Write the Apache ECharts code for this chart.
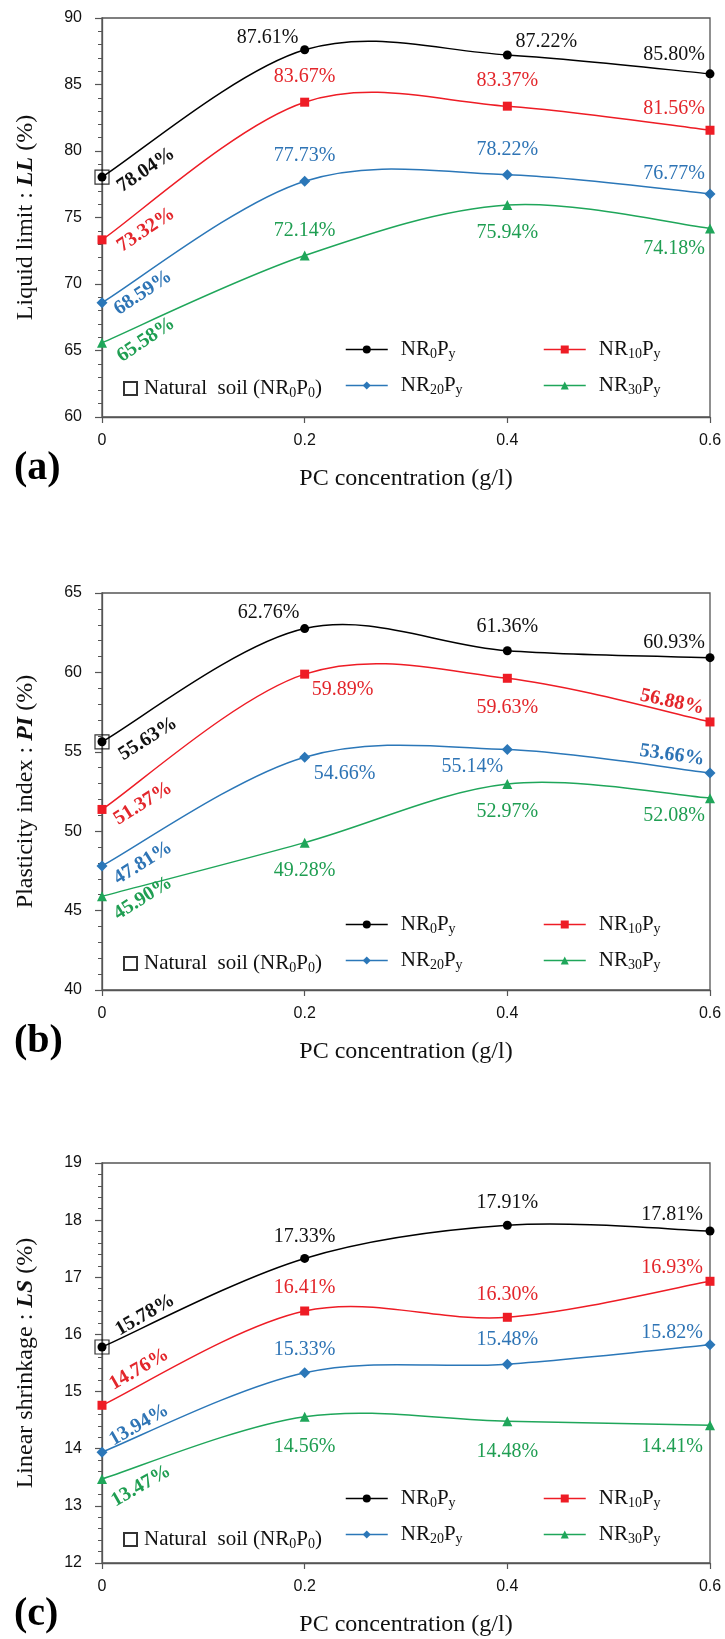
<!DOCTYPE html>
<html><head><meta charset="utf-8">
<script src="https://cdn.jsdelivr.net/npm/echarts@6/dist/echarts.min.js"></script>
<style>html,body{margin:0;padding:0;background:#fff}#c{width:725px;height:1639px}</style>
</head><body><div id="c"></div>
<script>
// ---------- data ----------
const xValues = [0, 0.2, 0.4, 0.6];
const seriesNames = ['NR0Py', 'NR10Py', 'NR20Py', 'NR30Py'];
const naturalName = 'Natural soil';
const xTitle = 'PC concentration (g/l)';
const panelTags = ['(a)', '(b)', '(c)'];

// (a) Liquid limit LL (%)
const llNR0  = [78.04, 87.61, 87.22, 85.80];
const llNR10 = [73.32, 83.67, 83.37, 81.56];
const llNR20 = [68.59, 77.73, 78.22, 76.77];
const llNR30 = [65.58, 72.14, 75.94, 74.18];
// (b) Plasticity index PI (%)
const piNR0  = [55.63, 62.76, 61.36, 60.93];
const piNR10 = [51.37, 59.89, 59.63, 56.88];
const piNR20 = [47.81, 54.66, 55.14, 53.66];
const piNR30 = [45.90, 49.28, 52.97, 52.08];
// (c) Linear shrinkage LS (%)
const lsNR0  = [15.78, 17.33, 17.91, 17.81];
const lsNR10 = [14.76, 16.41, 16.30, 16.93];
const lsNR20 = [13.94, 15.33, 15.48, 15.82];
const lsNR30 = [13.47, 14.56, 14.48, 14.41];

// y-axis ranges / ticks
const yMin = [60, 40, 12];
const yMax = [90, 65, 19];
const yStep = [5, 5, 1];
const yTitles = [['Liquid limit : ', 'LL', ' (%)'], ['Plasticity index : ', 'PI', ' (%)'], ['Linear shrinkage : ', 'LS', ' (%)']];

// ---------- style / layout ----------
const colors = ['#000000', '#ee1c25', '#2b77b8', '#1fa65a'];
const labelColors = ['#111111', '#e3262b', '#2e74b5', '#1f9e52'];
const symbols = ['circle', 'rect', 'diamond', 'triangle'];
const symbolSizes = [9, 9, 11, 10];
const gridTop = [18, 593, 1163];
const gridHeight = [399, 397, 400];
const legendRows = [[347, 386], [922, 961], [1496, 1537]];
const SERIF = 'Liberation Serif';
const SANS = 'Liberation Sans';

// label placement: [dx, dy, rotate, bold] (screen offsets from the marker)
const labelPlace = [
  [ [[44,-7,34,1],[-37,-12,0,0],[39,-13,0,0],[-36,-19,0,0]],
    [[44,-10,34,1],[0,-25,0,0],[0,-25,0,0],[-36,-22,0,0]],
    [[41,-10,34,1],[0,-25,0,0],[0,-25,0,0],[-36,-20,0,0]],
    [[44,-3,34,1],[0,-25,0,0],[0,28,0,0],[-36,20,0,0]] ],
  [ [[46,-3,32,1],[-36,-16,0,0],[0,-24,0,0],[-36,-15,0,0]],
    [[41,-6,32,1],[38,16,0,0],[0,29,0,0],[-38,-20,-12,1]],
    [[41,-3,32,1],[40,17,0,0],[-35,17,0,0],[-38,-18,-8,1]],
    [[41,2,32,1],[0,28,0,0],[0,28,0,0],[-36,18,0,0]] ],
  [ [[43,-32,30,1],[0,-22,0,0],[0,-23,0,0],[-38,-16,0,0]],
    [[37,-36,30,1],[0,-23,0,0],[0,-23,0,0],[-38,-14,0,0]],
    [[37,-27,30,1],[0,-23,0,0],[0,-24,0,0],[-38,-12,0,0]],
    [[39,7,30,1],[0,30,0,0],[0,30,0,0],[-38,21,0,0]] ]
];

const panelData = [
  [llNR0, llNR10, llNR20, llNR30],
  [piNR0, piNR10, piNR20, piNR30],
  [lsNR0, lsNR10, lsNR20, lsNR30]
];

const richLegend = {
  m: { fontFamily: SERIF, fontSize: 21, color: '#111' },
  s: { fontFamily: SERIF, fontSize: 14, color: '#111', padding: [9, 0, 0, 0] }
};
function legendFmt(name) {
  if (name === naturalName) return '{m|Natural  soil (NR}{s|0}{m|P}{s|0}{m|)}';
  const m = name.match(/^NR(\d+)Py$/);
  return '{m|NR}{s|' + m[1] + '}{m|P}{s|y}';
}

function makeCurve(vals, color) {
  return function (params, api) {
    const i = params.dataIndex;
    if (i >= vals.length - 1) return null;
    const P = vals.map((v, k) => api.coord([xValues[k], v]));
    const p0 = P[Math.max(i - 1, 0)], p1 = P[i], p2 = P[i + 1], p3 = P[Math.min(i + 2, P.length - 1)];
    return {
      type: 'bezierCurve',
      shape: {
        x1: p1[0], y1: p1[1], x2: p2[0], y2: p2[1],
        cpx1: p1[0] + (p2[0] - p0[0]) / 6, cpy1: p1[1] + (p2[1] - p0[1]) / 6,
        cpx2: p2[0] - (p3[0] - p1[0]) / 6, cpy2: p2[1] - (p3[1] - p1[1]) / 6
      },
      style: { stroke: color, lineWidth: 1.5, fill: null }
    };
  };
}

function rotOffset(dx, dy, deg) {
  if (!deg) return [dx, dy];
  const t = deg * Math.PI / 180, c = Math.cos(t), s = Math.sin(t);
  return [dx * c - dy * s, dx * s + dy * c];
}

const grids = [], xAxes = [], yAxes = [], series = [], legends = [], graphics = [];
for (let p = 0; p < 3; p++) {
  grids.push({ left: 102, right: 15, top: gridTop[p], height: gridHeight[p], show: true,
    borderColor: '#555', borderWidth: 1.3, backgroundColor: 'transparent' });
  xAxes.push({ type: 'value', gridIndex: p, min: 0, max: 0.6, interval: 0.2,
    name: xTitle, nameLocation: 'middle', nameGap: 50,
    nameTextStyle: { fontFamily: SERIF, fontSize: 24, color: '#111' },
    axisLine: { lineStyle: { color: '#555', width: 1.3 } },
    axisTick: { show: true, length: 6, lineStyle: { color: '#555', width: 1.2 } },
    axisLabel: { fontFamily: SANS, fontSize: 16, color: '#111', margin: 16 },
    splitLine: { show: false } });
  const t = yTitles[p];
  yAxes.push({ type: 'value', gridIndex: p, min: yMin[p], max: yMax[p], interval: yStep[p],
    name: '{a|' + t[0] + '}{b|' + t[1] + '}{a|' + t[2] + '}',
    nameLocation: 'middle', nameGap: 64, nameRotate: 90,
    nameTextStyle: { rich: {
      a: { fontFamily: SERIF, fontSize: 24, color: '#111' },
      b: { fontFamily: SERIF, fontSize: 24, color: '#111', fontWeight: 'bold', fontStyle: 'italic' } } },
    axisLine: { show: true, lineStyle: { color: '#555', width: 1.3 } },
    axisTick: { show: true, length: 7, lineStyle: { color: '#555', width: 1.2 } },
    minorTick: { show: true, splitNumber: 5, length: 4, lineStyle: { color: '#555', width: 1 } },
    axisLabel: { fontFamily: SANS, fontSize: 16, color: '#111', margin: 20 },
    splitLine: { show: false } });

  for (let s = 0; s < 4; s++) {
    const vals = panelData[p][s];
    series.push({ type: 'custom', name: 'curve' + p + '_' + s, xAxisIndex: p, yAxisIndex: p,
      silent: true, z: 2, clip: false,
      data: vals.map((v, k) => [xValues[k], v]),
      renderItem: makeCurve(vals, colors[s]) });
    series.push({ type: 'line', name: seriesNames[s], xAxisIndex: p, yAxisIndex: p, z: 3,
      symbol: symbols[s], symbolSize: symbolSizes[s], showSymbol: true,
      itemStyle: { color: colors[s] }, lineStyle: { color: colors[s], width: 1.5, opacity: 0 },
      animation: false,
      data: vals.map((v, k) => {
        const lp = labelPlace[p][s][k];
        return { value: [xValues[k], v], label: {
          show: true, position: 'inside', offset: rotOffset(lp[0], lp[1], lp[2]), rotate: lp[2],
          fontWeight: lp[3] ? 'bold' : 'normal' } };
      }),
      label: { show: true, fontFamily: SERIF, fontSize: 20, color: labelColors[s],
        formatter: (d) => d.value[1].toFixed(2) + '%' } });
  }
  series.push({ type: 'scatter', name: naturalName, xAxisIndex: p, yAxisIndex: p, z: 4,
    symbol: 'rect', symbolSize: 14, animation: false,
    itemStyle: { color: 'rgba(0,0,0,0)', borderColor: '#000', borderWidth: 1.2 },
    data: [[xValues[0], panelData[p][0][0]]] });

  const common = { orient: 'vertical', itemGap: 14, itemWidth: 42, itemHeight: 10,
    formatter: legendFmt, textStyle: { rich: richLegend, padding: [0, 0, 0, 8] },
    lineStyle: { width: 1.5, opacity: 1 }, selectedMode: false };
  legends.push(Object.assign({}, common, { data: [seriesNames[0], seriesNames[2]], left: 340, top: legendRows[p][0] - 13 }));
  legends.push(Object.assign({}, common, { data: [seriesNames[1], seriesNames[3]], left: 538, top: legendRows[p][0] - 13 }));
  legends.push({ data: [{ name: naturalName, icon: 'rect' }], left: 118, top: legendRows[p][1] - 13,
    itemWidth: 13, itemHeight: 13, formatter: legendFmt, selectedMode: false,
    textStyle: { rich: richLegend, padding: [0, 0, 0, 2] } });

  graphics.push({ type: 'text', left: 14, top: gridTop[p] + gridHeight[p] + 32,
    style: { text: panelTags[p], font: 'bold 40px "Liberation Serif"', fill: '#000' } });
}

const chart = echarts.init(document.getElementById('c'), null, { renderer: 'canvas' });
chart.setOption({
  animation: false,
  backgroundColor: '#fff',
  grid: grids, xAxis: xAxes, yAxis: yAxes, series: series, legend: legends, graphic: graphics
});
</script></body></html>
